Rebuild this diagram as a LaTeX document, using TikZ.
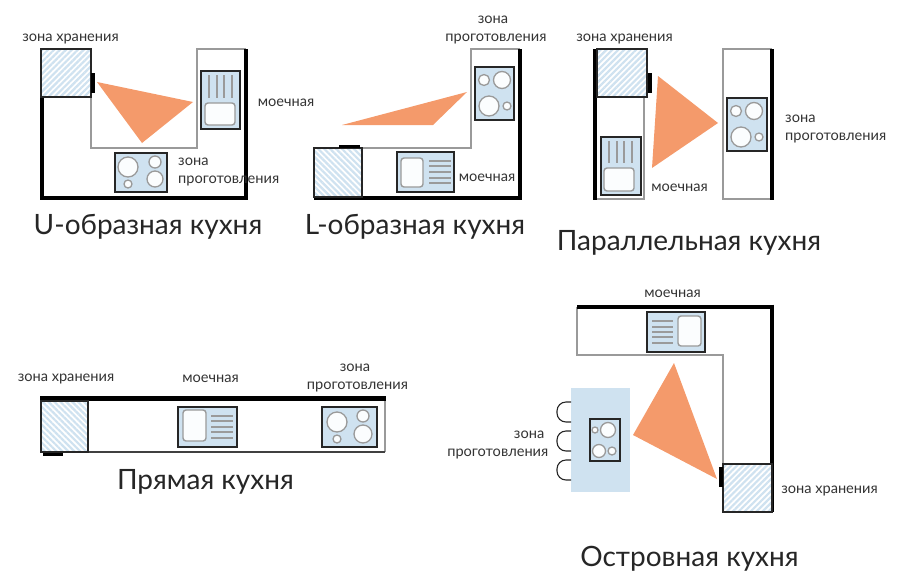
\documentclass[tikz,border=0pt]{standalone}
\usepackage{fontspec}
\setmainfont{Lato}
\usetikzlibrary{patterns.meta}

\definecolor{unitblue}{HTML}{CFE2F0}
\definecolor{zoneorange}{HTML}{F49A6B}
\definecolor{edgegray}{HTML}{9A9A9A}
\definecolor{textgray}{HTML}{333333}

\newcommand{\unitbox}[4]{\draw[unit] (#1,#2) rectangle (#3,#4);}
\newcommand{\basinbox}[4]{\draw[basin] (#1,#2) rectangle (#3,#4);}
\newcommand{\storebox}[5]{\fill[white] (#1,#2) rectangle (#3,#4);
    \fill[pattern={Lines[angle=#5,distance=4.2pt,line width=2.2pt]}, pattern color=unitblue] (#1,#2) rectangle (#3,#4);
    \draw[store] (#1,#2) rectangle (#3,#4);}

\begin{document}
\begin{tikzpicture}[x=1pt, y=-1pt, line join=miter,
    wall/.style={line width=4pt, black},
    counter/.style={line width=1.3pt, edgegray},
    unit/.style={fill=unitblue, draw=black!85, line width=1.2pt},
    store/.style={draw=black!85, line width=1.2pt},
    handle/.style={fill=black},
    basin/.style={fill=white!92!unitblue, draw=edgegray, line width=1.4pt, rounded corners=3pt},
    drain/.style={draw=edgegray, line width=1.3pt},
    ring/.style={fill=white!92!unitblue, draw=edgegray, line width=1.3pt},
    zone/.style={fill=zoneorange},
    stool/.style={draw=black!85, line width=1.1pt, rounded corners=9pt},
    small label/.style={text=textgray, inner sep=0pt, yshift=-1.5pt, font=\fontsize{14.6}{18}\selectfont},
    title label/.style={text=black!85, inner sep=0pt, yshift=-2pt, font=\fontsize{28}{32}\selectfont}]
    \useasboundingbox (0,0) rectangle (900,579);

    % U-shaped
    \draw[counter] (91,97) -- (91,148) -- (197,148) -- (197,49) -- (246,49);
    \draw[wall] (42,97) -- (42,197.5) -- (246,197.5);
    \draw[wall] (246,199.5) -- (246,49);
    \storebox{41}{49}{91}{97}{45}
    \fill[handle] (91,73) rectangle (94.5,93);
    \fill[zone] (97,82) -- (193,102) -- (142,143) -- cycle;
    \unitbox{201}{71}{240}{129}
    \foreach \x in {209,217,224,232} \draw[drain] (\x,75) -- (\x,98);
    \basinbox{205}{103}{235}{125}
    \unitbox{115}{153}{167}{192}
    \foreach \x/\y/\r in {128/167/10, 155/162/6, 155/179/8, 128/184/4} \draw[ring] (\x,\y) circle (\r);
    \node[small label] (uStore) at (70.5,37) {зона хранения};
    \node[small label] (uSink) at (286,101) {моечная};
    \node[small label, anchor=west, align=left] (uHob) at (178,170) {зона\\проготовления};
    \node[title label] (uTitle) at (148,225) {U-образная кухня};

    % L-shaped
    \draw[counter] (362,148) -- (471,148) -- (471,49) -- (520,49);
    \draw[wall] (314,197.5) -- (520,197.5);
    \draw[wall] (520,199.5) -- (520,49);
    \storebox{314}{148}{362}{197}{-45}
    \fill[handle] (339,145) rectangle (360,148);
    \fill[zone] (342,125) -- (467,92) -- (433,125) -- cycle;
    \unitbox{475}{67}{514}{120}
    \foreach \x/\y/\r in {484/80/5.5, 502/80/8.5, 489/106/10, 507/106/4} \draw[ring] (\x,\y) circle (\r);
    \unitbox{397}{152}{454}{192}
    \basinbox{401}{158}{423}{187}
    \foreach \y in {161,166,172,178,183} \draw[drain] (429,\y) -- (451,\y);
    \node[small label, align=center] (lHob) at (496,28.5) {зона\hspace{6pt}\null\\проготовления};
    \node[small label] (lSink) at (487,176) {моечная};
    \node[title label] (lTitle) at (415,225) {L-образная кухня};

    % parallel
    \draw[counter] (595,199) -- (644,199) -- (644,97);
    \draw[wall] (595,49) -- (595,199.5);
    \storebox{597}{49}{647}{97}{45}
    \fill[handle] (648,73) rectangle (652,93);
    \fill[zone] (658,76) -- (718,123) -- (652,168) -- cycle;
    \unitbox{601}{137}{641}{195}
    \foreach \x in {609,617,624,632} \draw[drain] (\x,141) -- (\x,163);
    \basinbox{604}{168}{634}{191}
    \draw[counter] (772,49) -- (723,49) -- (723,199) -- (772,199);
    \draw[wall] (772,49) -- (772,199.5);
    \unitbox{727}{98}{767}{151}
    \foreach \x/\y/\r in {736/111/5.5, 754/111/8.5, 741/137/10, 759/137/4} \draw[ring] (\x,\y) circle (\r);
    \node[small label] (pStore) at (624.5,37) {зона хранения};
    \node[small label] (pSink) at (679.5,186) {моечная};
    \node[small label, anchor=west, align=left] (pHob) at (785,127) {зона\\проготовления};
    \node[title label] (pTitle) at (689,241) {Параллельная кухня};

    % straight
    \draw[counter] (385,398) -- (385,452);
    \draw[counter, black!75] (385,452) -- (41,452) -- (41,398);
    \draw[wall, line width=5pt] (40,398.5) -- (385.5,398.5);
    \storebox{41}{401}{88}{452}{-45}
    \fill[handle] (43,452.5) rectangle (63,456);
    \unitbox{178}{407}{237}{447}
    \basinbox{183}{410}{206}{441}
    \foreach \y in {416,421,427,432,438} \draw[drain] (211,\y) -- (233,\y);
    \unitbox{322}{407}{377}{447}
    \foreach \x/\y/\r in {337/422/10, 363/416/6, 363/434/9, 337/439/4} \draw[ring] (\x,\y) circle (\r);
    \node[small label] (sStore) at (66,377) {зона хранения};
    \node[small label] (sSink) at (210.5,377) {моечная};
    \node[small label, align=center] (sHob) at (357.5,376.5) {зона\hspace{5pt}\null\\проготовления};
    \node[title label] (sTitle) at (205.5,480) {Прямая кухня};

    % island
    \draw[counter] (577,307) -- (577,355) -- (723,355) -- (723,464);
    \draw[wall] (577,306.5) -- (771.5,306.5);
    \draw[wall] (771.5,304.5) -- (771.5,512);
    \unitbox{647}{312}{705}{352}
    \foreach \y in {321,327,332,337,343} \draw[drain] (652,\y) -- (673,\y);
    \basinbox{678}{316}{701}{346}
    \storebox{723}{464}{772}{512}{45}
    \fill[handle] (719,467) rectangle (723,487);
    \fill[zone] (674,363) -- (717,479) -- (633,435) -- cycle;
    \fill[unitblue] (571,388) rectangle (630,492);
    \foreach \y in {402,431,460} \draw[stool] (571,\y) -- (557,\y) -- (557,\y+20) -- (571,\y+20);
    \unitbox{590}{419}{620}{461}
    \foreach \x/\y/\r in {595/430/3, 608/430/7.5, 599/451/6.5, 612/451/4} \draw[ring] (\x,\y) circle (\r);
    \node[small label] (iSink) at (672.5,292) {моечная};
    \node[small label, anchor=east, align=right] (iHob) at (548.5,443) {зона\hspace{4pt}\null\\проготовления};
    \node[small label] (iStore) at (829.5,489) {зона хранения};
    \node[title label] (iTitle) at (689.5,557) {Островная кухня};
\end{tikzpicture}
\end{document}
